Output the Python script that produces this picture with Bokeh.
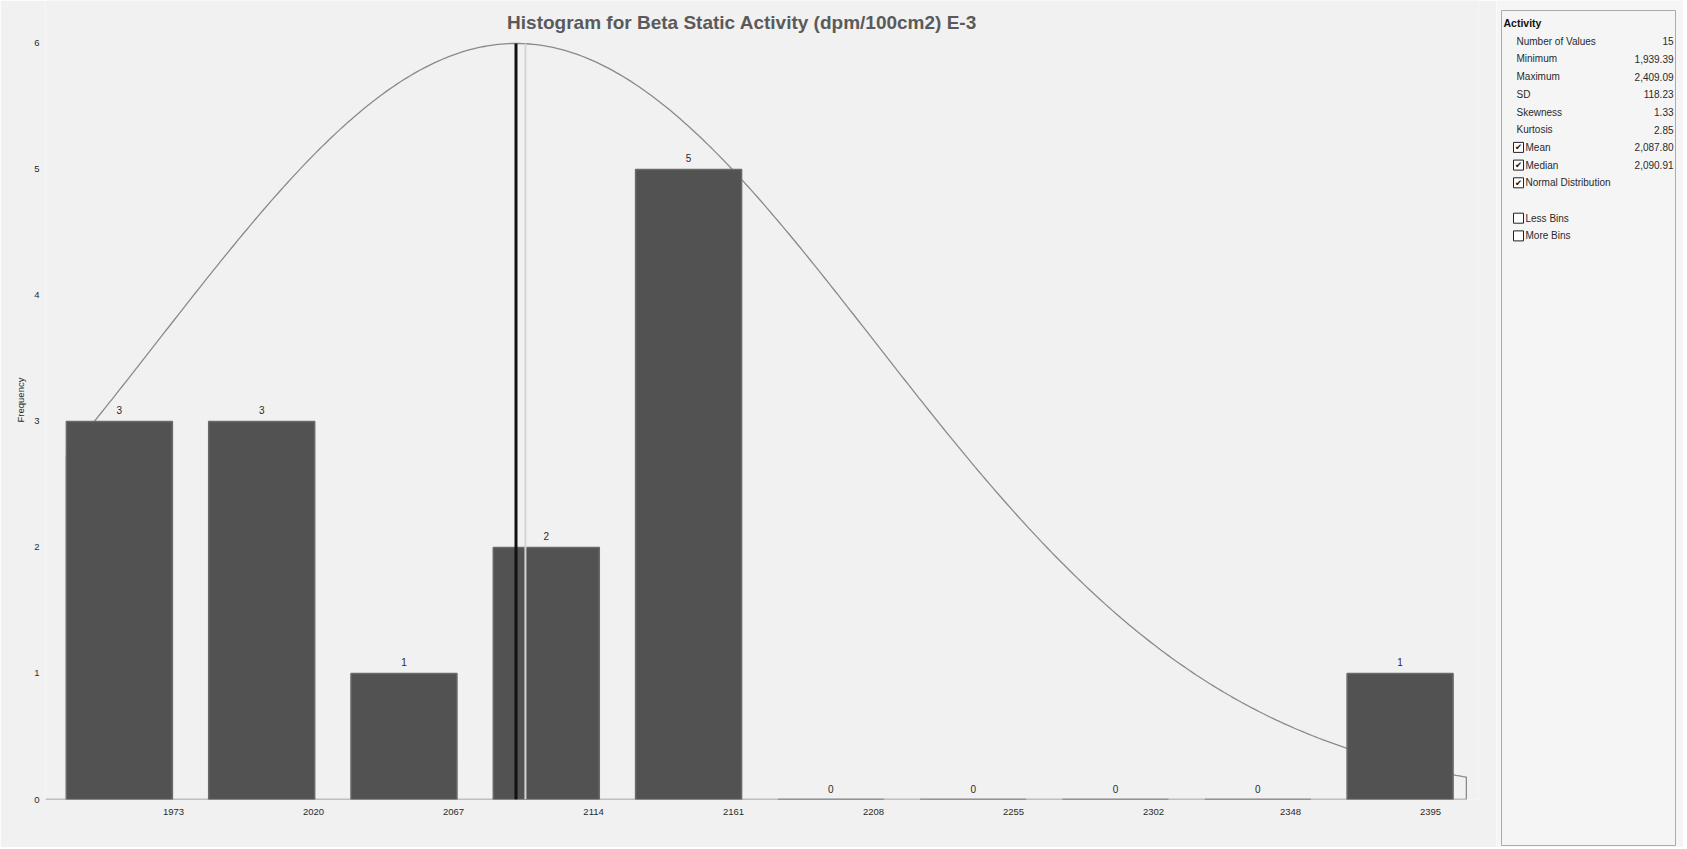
import numpy as np
from bokeh.plotting import figure
from bokeh.models import Range1d, LinearAxis, FixedTicker, ColumnDataSource, Label
from bokeh.layouts import row, column
from bokeh.embed import file_html
from bokeh.resources import INLINE
from bokeh.core.properties import value

# ---------------- data ----------------
title_text = "Histogram for Beta Static Activity (dpm/100cm2) E-3"
bin_labels = ["1973", "2020", "2067", "2114", "2161", "2208", "2255", "2302", "2348", "2395"]
counts = [3, 3, 1, 2, 5, 0, 0, 0, 0, 1]
y_ticks = [0, 1, 2, 3, 4, 5, 6]

panel_title = "Activity"
n_values = 15
minimum = 1939.39
maximum = 2409.09
sd = 118.23
skewness = 1.33
kurtosis = 2.85
mean = 2087.80
median = 2090.91
curve_end = 2401.5          # where the drawn normal curve stops

stat_names = ["Number of Values", "Minimum", "Maximum", "SD", "Skewness", "Kurtosis"]
stat_values = [f"{n_values}", f"{minimum:,.2f}", f"{maximum:,.2f}", f"{sd:,.2f}",
               f"{skewness:,.2f}", f"{kurtosis:,.2f}"]
check_names = ["Mean", "Median", "Normal Distribution"]
check_values = [f"{mean:,.2f}", f"{median:,.2f}", ""]
option_names = ["Less Bins", "More Bins"]

# ---------------- styles ----------------
BG = "#f1f1f1"
BAR = "#525252"
FONT = value("Liberation Sans")
TXT = "#2a2a2a"

W, H = 1496, 847
PW = 187

# ---------------- main histogram ----------------
p = figure(width=W, height=H, output_backend="svg", toolbar_location=None,
           x_range=Range1d(1932.5, 2405.5), y_range=Range1d(0, 6.341),
           x_axis_location=None, min_border_left=45, min_border_right=18,
           min_border_top=0, min_border_bottom=48)
p.background_fill_color = BG
p.border_fill_color = BG
p.outline_line_color = None
p.grid.visible = False

bin_width = (maximum - minimum) / len(counts)
lefts = minimum + bin_width * np.arange(len(counts))
bar_w = 0.745 * bin_width
centers = lefts + bar_w / 2
src = ColumnDataSource(dict(x=centers, top=counts, lab=[str(c) for c in counts]))

# normal distribution outline (scaled so its peak is at the top tick)
peak = y_ticks[-1]
cx = np.linspace(minimum, curve_end, 400)
cy = peak * np.exp(-0.5 * ((cx - mean) / sd) ** 2)
px = np.concatenate([[minimum], cx, [curve_end, p.x_range.start]])
py = np.concatenate([[0], cy, [0, 0]])
p.line(px, py, line_color="#8a8a8a", line_width=1.3)

# bars
p.vbar(x="x", top="top", bottom=0, width=bar_w, source=src,
       fill_color=BAR, line_color="#6a6a6a", line_width=1.5)

# count labels
p.text(x="x", y="top", text="lab", source=src, text_align="center",
       text_baseline="bottom", y_offset=-7, text_font=FONT,
       text_font_size="10px", text_color=TXT)

# mean & median lines
p.segment(x0=[median], y0=[0], x1=[median], y1=[peak], line_color="#d4d4d4", line_width=2)
p.segment(x0=[mean], y0=[0], x1=[mean], y1=[peak], line_color="#111111", line_width=3)

# title
p.add_layout(Label(x=(p.x_range.start + p.x_range.end) / 2, y=6.17, x_offset=-20,
                   text=title_text, text_align="center", text_baseline="middle",
                   text_font="Liberation Sans", text_font_size="19px", text_font_style="bold",
                   text_color="#5a5a5a"))

# y axis
ya = p.yaxis[0]
ya.ticker = FixedTicker(ticks=y_ticks)
ya.axis_line_color = None
ya.major_tick_line_color = None
ya.minor_tick_line_color = None
ya.major_tick_out = 0
ya.major_label_standoff = 6
ya.major_label_text_font = "Liberation Sans"
ya.major_label_text_font_size = "9.5px"
ya.major_label_text_color = TXT
ya.axis_label = "Frequency"
ya.axis_label_text_font = "Liberation Sans"
ya.axis_label_text_font_size = "9.5px"
ya.axis_label_text_font_style = "normal"
ya.axis_label_text_color = TXT
ya.axis_label_standoff = 5

# x axis (bin labels on their own scale)
tick_vals = [int(s) for s in bin_labels]
p.extra_x_ranges = {"bins": Range1d(1930.0, 2411.1)}
xa = LinearAxis(x_range_name="bins", ticker=FixedTicker(ticks=tick_vals),
                major_label_overrides={v: s for v, s in zip(tick_vals, bin_labels)})
xa.axis_line_color = None
xa.major_tick_line_color = None
xa.minor_tick_line_color = None
xa.major_tick_out = 0
xa.major_label_standoff = 9
xa.major_label_text_font = "Liberation Sans"
xa.major_label_text_font_size = "9.5px"
xa.major_label_text_color = TXT
p.add_layout(xa, "below")

# ---------------- statistics panel ----------------
q = figure(width=PW, height=H, output_backend="svg", toolbar_location=None,
           x_range=Range1d(0, PW), y_range=Range1d(H, 0),
           x_axis_location=None, y_axis_location=None,
           min_border=0, min_border_left=0, min_border_right=0,
           min_border_top=0, min_border_bottom=0)
q.background_fill_color = "#f5f5f5"
q.border_fill_color = "#f5f5f5"
q.outline_line_color = None
q.grid.visible = False

q.quad(left=5, right=179, top=10, bottom=845, fill_color=None,
       line_color="#ababab", line_width=1)

row_h = 17.7
y0 = 40.7
q.text(x=[7], y=[22.7], text=[panel_title], text_font=FONT, text_font_size="10.5px",
       text_font_style="bold", text_baseline="middle", text_color="#111111")

ys = [y0 + row_h * k for k in range(len(stat_names))]
q.text(x=[20] * len(ys), y=ys, text=stat_names, text_font=FONT, text_font_size="10px",
       text_baseline="middle", text_color=TXT)
q.text(x=[177] * len(ys), y=ys, text=stat_values, text_font=FONT, text_font_size="10px",
       text_baseline="middle", text_align="right", text_color=TXT)

yc = [y0 + row_h * (len(stat_names) + k) for k in range(len(check_names))]
q.rect(x=[22] * len(yc), y=yc, width=10, height=10, fill_color="#ffffff",
       line_color="#222222", line_width=1)
q.text(x=[22] * len(yc), y=yc, text=["\u2714"] * len(yc), text_font=value("DejaVu Sans"),
       text_font_size="8.5px", text_align="center", text_baseline="middle", text_color="#111111")
q.text(x=[29] * len(yc), y=yc, text=check_names, text_font=FONT, text_font_size="10px",
       text_baseline="middle", text_color=TXT)
q.text(x=[177] * len(yc), y=yc, text=check_values, text_font=FONT, text_font_size="10px",
       text_baseline="middle", text_align="right", text_color=TXT)

yo = [y0 + row_h * (len(stat_names) + len(check_names) + 1 + k) for k in range(len(option_names))]
q.rect(x=[22] * len(yo), y=yo, width=10, height=10, fill_color="#ffffff",
       line_color="#222222", line_width=1)
q.text(x=[29] * len(yo), y=yo, text=option_names, text_font=FONT, text_font_size="10px",
       text_baseline="middle", text_color=TXT)

layout = row(p, column(q))
open("out.html", "w").write(file_html(layout, INLINE))
